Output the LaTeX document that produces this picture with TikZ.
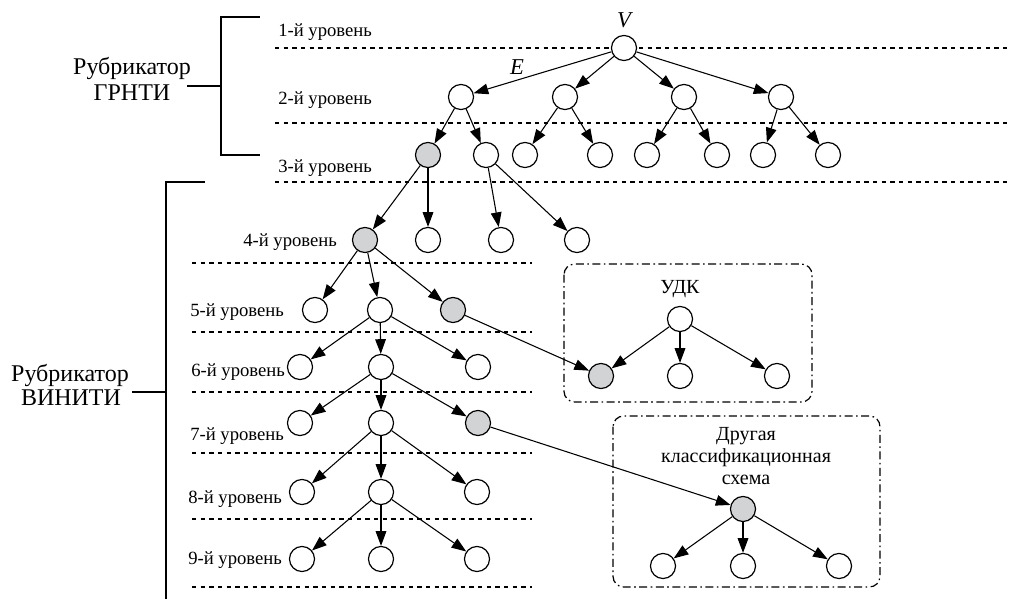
\documentclass[tikz,border=0pt]{standalone}
\usepackage{fontspec}
\setmainfont{Liberation Serif}
\usetikzlibrary{arrows.meta}
\definecolor{nodegray}{RGB}{210,211,212}
\begin{document}
\begin{tikzpicture}[x=0.75pt,y=-0.75pt,
  vert/.style={circle,draw,line width=0.9pt,fill=white,minimum size=18.8pt,inner sep=0pt},
  hl/.style={vert,fill=nodegray},
  arr/.style={line width=0.8pt,-{Triangle[length=11pt,width=8pt]}},
  lvl/.style={line width=0.9pt,dash pattern=on 3.2pt off 3.3pt},
  grp/.style={line width=0.9pt,rounded corners=8pt,dash pattern=on 6pt off 2.6pt on 1.2pt off 2.6pt},
  brk/.style={line width=0.8pt},
  lvltxt/.style={anchor=base west,inner sep=0pt,font=\fontsize{14}{16}\selectfont},
  bigtxt/.style={anchor=base,inner sep=0pt,font=\fontsize{18}{20}\selectfont},
  boxtxt/.style={inner sep=0pt,align=center,font=\fontsize{15}{16.5}\selectfont}]
\useasboundingbox (0,0) rectangle (1010,599);

% level lines
\foreach \yy in {48,123,182} \draw[lvl] (275,\yy) -- (1010,\yy);
\foreach \yy in {263,332,392,453,519,587} \draw[lvl] (192,\yy) -- (532,\yy);

% level labels
\node[lvltxt] (l1) at (278,37) {1-й уровень};
\node[lvltxt] (l2) at (278,105) {2-й уровень};
\node[lvltxt] (l3) at (278,173) {3-й уровень};
\node[lvltxt] (l4) at (243,246) {4-й уровень};
\node[lvltxt] (l5) at (190,316) {5-й уровень};
\node[lvltxt] (l6) at (191,376) {6-й уровень};
\node[lvltxt] (l7) at (190,440) {7-й уровень};
\node[lvltxt] (l8) at (188,503) {8-й уровень};
\node[lvltxt] (l9) at (188,564) {9-й уровень};

% brackets
\node[bigtxt] (g1) at (132,75) {Рубрикатор};
\node[bigtxt] (g2) at (132,101) {ГРНТИ};
\draw[brk] (260,17) -- (221,17) -- (221,155) -- (260,155);
\draw[brk] (187,86) -- (221,86);
\node[bigtxt] (v1) at (70,381) {Рубрикатор};
\node[bigtxt] (v2) at (71,405) {ВИНИТИ};
\draw[brk] (205,182) -- (166,182) -- (166,599);
\draw[brk] (132,392) -- (166,392);

% group boxes
\draw[grp] (564,264) rectangle (812,402);
\draw[grp] (613,416) rectangle (880,587);
\node[boxtxt,anchor=base] (udk) at (680,293) {УДК};
\node[boxtxt] (oth) at (746,456) {Другая\\классификационная\\схема};

% vertices
\node[vert] (n1) at (624,48) {};
\node[inner sep=0pt,anchor=base,font=\fontsize{17}{18}\selectfont\itshape] (vl) at (624,28) {V};
\node[inner sep=0pt,anchor=base,font=\fontsize{17}{18}\selectfont\itshape] (el) at (517,75) {E};
\node[vert] (n2a) at (461,97) {};
\node[vert] (n2b) at (565,97) {};
\node[vert] (n2c) at (684,97) {};
\node[vert] (n2d) at (781,97) {};
\node[hl]   (n3a) at (428,155) {};
\node[vert] (n3b) at (486,155) {};
\node[vert] (n3c) at (525,155) {};
\node[vert] (n3d) at (600,155) {};
\node[vert] (n3e) at (647,155) {};
\node[vert] (n3f) at (717,155) {};
\node[vert] (n3g) at (763,155) {};
\node[vert] (n3h) at (828,155) {};
\node[hl]   (n4a) at (365,240) {};
\node[vert] (n4b) at (428,240) {};
\node[vert] (n4c) at (501,240) {};
\node[vert] (n4d) at (577,240) {};
\node[vert] (n5a) at (315,310) {};
\node[vert] (n5b) at (380,310) {};
\node[hl]   (n5c) at (453,310) {};
\node[vert] (n6a) at (300,367) {};
\node[vert] (n6b) at (381,367) {};
\node[vert] (n6c) at (478,367) {};
\node[vert] (n7a) at (300,423) {};
\node[vert] (n7b) at (381,423) {};
\node[hl]   (n7c) at (478,423) {};
\node[vert] (n8a) at (302,492) {};
\node[vert] (n8b) at (381,492) {};
\node[vert] (n8c) at (477,492) {};
\node[vert] (n9a) at (302,559) {};
\node[vert] (n9b) at (381,559) {};
\node[vert] (n9c) at (477,559) {};
\node[vert] (u0) at (680,319) {};
\node[hl]   (u1) at (601,376) {};
\node[vert] (u2) at (680,376) {};
\node[vert] (u3) at (777,376) {};
\node[hl]   (o0) at (743,509) {};
\node[vert] (o1) at (663,566) {};
\node[vert] (o2) at (743,566) {};
\node[vert] (o3) at (839,566) {};

% edges
\foreach \a/\b in {n1/n2a,n1/n2b,n1/n2c,n1/n2d,
  n2a/n3a,n2a/n3b,n2b/n3c,n2b/n3d,n2c/n3e,n2c/n3f,n2d/n3g,n2d/n3h,
  n3a/n4a,n3a/n4b,n3b/n4c,n3b/n4d,
  n4a/n5a,n4a/n5b,n4a/n5c,
  n5b/n6a,n5b/n6b,n5b/n6c,
  n6b/n7a,n6b/n7b,n6b/n7c,
  n7b/n8a,n7b/n8b,n7b/n8c,
  n8b/n9a,n8b/n9b,n8b/n9c,
  n5c/u1,u0/u1,u0/u2,u0/u3,
  n7c/o0,o0/o1,o0/o2,o0/o3}
  \draw[arr] (\a) -- (\b);
\end{tikzpicture}
\end{document}
